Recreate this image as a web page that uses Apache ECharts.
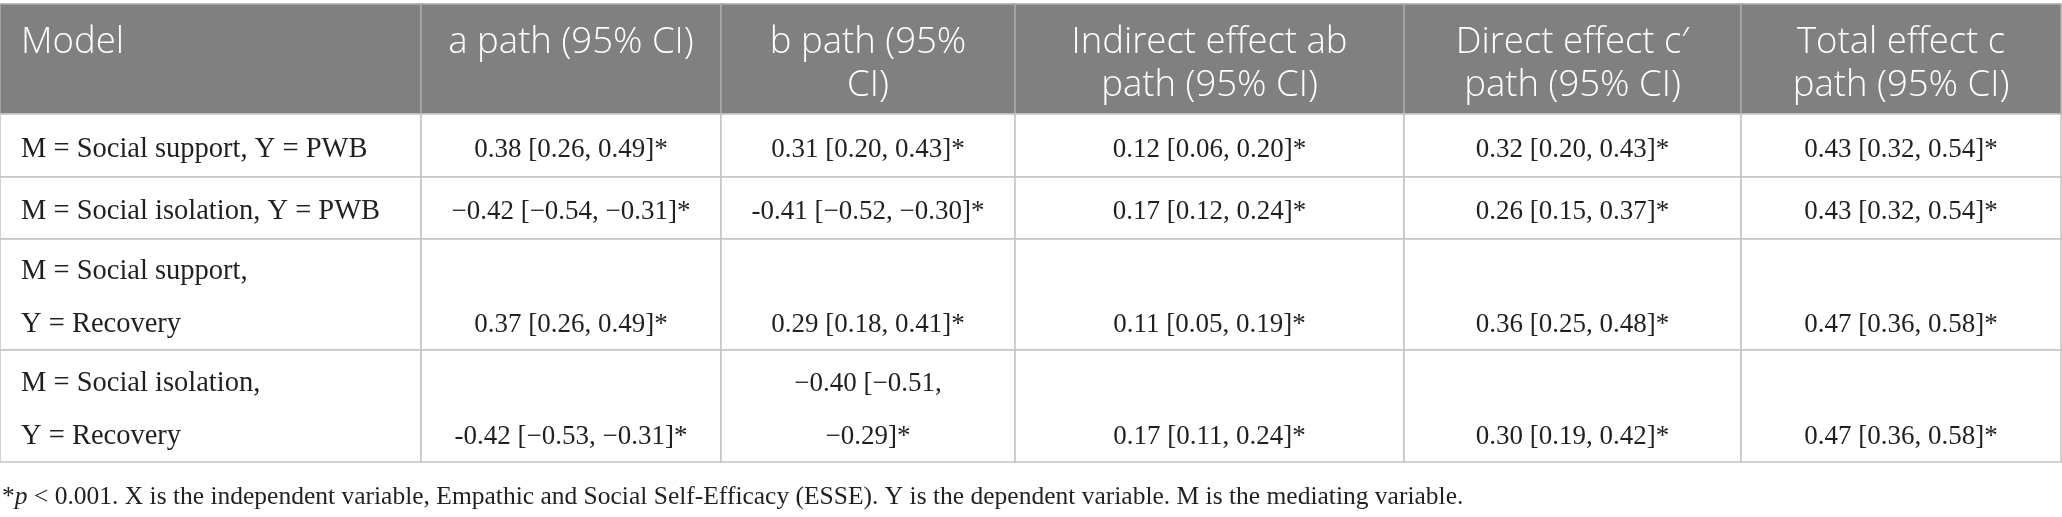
<!DOCTYPE html>
<html>
<head>
<meta charset="utf-8">
<script src="https://cdn.jsdelivr.net/npm/echarts@6/dist/echarts.min.js"></script>
<style>
    html, body { margin: 0; padding: 0; background: #fff; }
    #chart { width: 2062px; height: 517px; }
</style>
</head>
<body>
<div id="chart"></div>
<script>
// table content
const columns = ['Model', 'a path (95% CI)', 'b path (95%\nCI)', 'Indirect effect ab\npath (95% CI)', 'Direct effect c′\npath (95% CI)', 'Total effect c\npath (95% CI)']
const models = ['M = Social support, Y = PWB', 'M = Social isolation, Y = PWB', 'M = Social support,\nY = Recovery', 'M = Social isolation,\nY = Recovery']
const aPath = ['0.38 [0.26, 0.49]*', '−0.42 [−0.54, −0.31]*', '0.37 [0.26, 0.49]*', '-0.42 [−0.53, −0.31]*']
const bPath = ['0.31 [0.20, 0.43]*', '-0.41 [−0.52, −0.30]*', '0.29 [0.18, 0.41]*', '−0.40 [−0.51,\n−0.29]*']
const indirectAb = ['0.12 [0.06, 0.20]*', '0.17 [0.12, 0.24]*', '0.11 [0.05, 0.19]*', '0.17 [0.11, 0.24]*']
const directC = ['0.32 [0.20, 0.43]*', '0.26 [0.15, 0.37]*', '0.36 [0.25, 0.48]*', '0.30 [0.19, 0.42]*']
const totalC = ['0.43 [0.32, 0.54]*', '0.43 [0.32, 0.54]*', '0.47 [0.36, 0.58]*', '0.47 [0.36, 0.58]*']
const footnote = ' < 0.001. X is the independent variable, Empathic and Social Self-Efficacy (ESSE). Y is the dependent variable. M is the mediating variable.'

// layout (axis units)
const colW = [421, 300, 294, 389, 337, 320]
const rowH = [110, 63, 62, 111, 112]

let edges = arr => arr.reduce((acc, v) => acc.concat(acc[acc.length - 1] + v), [0])
const colEdge = edges(colW)
const rowEdge = edges(rowH)

const SANS = '"Open Sans", "Noto Sans", sans-serif'
const SERIF = '"Liberation Serif", "DejaVu Serif", serif'
const bodyLine = 53

const bodyCols = [models, aPath, bPath, indirectAb, directC, totalC]
let cells = []
columns.forEach((t, c) => cells.push({ col: c, row: 0, text: t, head: true }))
models.forEach((m, r) => {
    bodyCols.forEach((arr, c) => cells.push({ col: c, row: r + 1, text: arr[r], head: false }))
})
// most lines per body row, used to line up the last lines
let rowLines = rowH.map((h, r) => Math.max(1, ...cells.filter(d => d.row === r).map(d => d.text.split('\n').length)))

let renderCell = (params, api) => {
    const d = cells[params.dataIndex]
    const p0 = api.coord([colEdge[d.col], rowEdge[d.row]])
    const p1 = api.coord([colEdge[d.col + 1], rowEdge[d.row + 1]])
    const w = p1[0] - p0[0]
    const h = p1[1] - p0[1]
    const left = d.col === 0
    const tx = left ? p0[0] + 21 : p0[0] + w / 2
    let text
    if (d.head) {
        text = {
            type: 'text', x: tx, y: p0[1] + 17,
            style: { text: d.text, fill: '#fff', font: '300 36.5px ' + SANS, align: left ? 'left' : 'center', verticalAlign: 'top', lineHeight: 43 }
        }
    } else {
        const bottom = p0[1] + h / 2 + rowLines[d.row] * bodyLine / 2 + 4
        text = {
            type: 'text', x: tx, y: bottom,
            style: { text: d.text, fill: '#231f20', font: (left ? '28.5px ' : '27px ') + SERIF, align: left ? 'left' : 'center', verticalAlign: 'bottom', lineHeight: bodyLine }
        }
    }
    return {
        type: 'group',
        children: [
            {
                type: 'rect',
                shape: { x: p0[0], y: p0[1], width: w, height: h },
                style: { fill: d.head ? '#808080' : '#fff', stroke: d.head ? '#ababab' : '#c3c3c3', lineWidth: 1.5 }
            },
            text
        ]
    }
}

const chart = echarts.init(document.getElementById('chart'))
chart.setOption({
    animation: false,
    grid: { left: 0, top: 4, right: 1, bottom: 55 },
    xAxis: { type: 'value', min: 0, max: colEdge[colEdge.length - 1], show: false },
    yAxis: { type: 'value', min: 0, max: rowEdge[rowEdge.length - 1], inverse: true, show: false },
    graphic: [{
        type: 'text', left: 2, top: 484,
        style: {
            text: '{a|*}{i|p}{a|' + footnote + '}',
            rich: {
                a: { font: '25.5px ' + SERIF, fill: '#231f20' },
                i: { font: 'italic 25.5px ' + SERIF, fill: '#231f20' }
            }
        }
    }],
    series: [{
        type: 'custom',
        silent: true,
        clip: false,
        renderItem: renderCell,
        data: cells.map(d => [d.col, d.row])
    }]
})
window.addEventListener('resize', () => chart.resize(), false)
</script>
</body>
</html>
